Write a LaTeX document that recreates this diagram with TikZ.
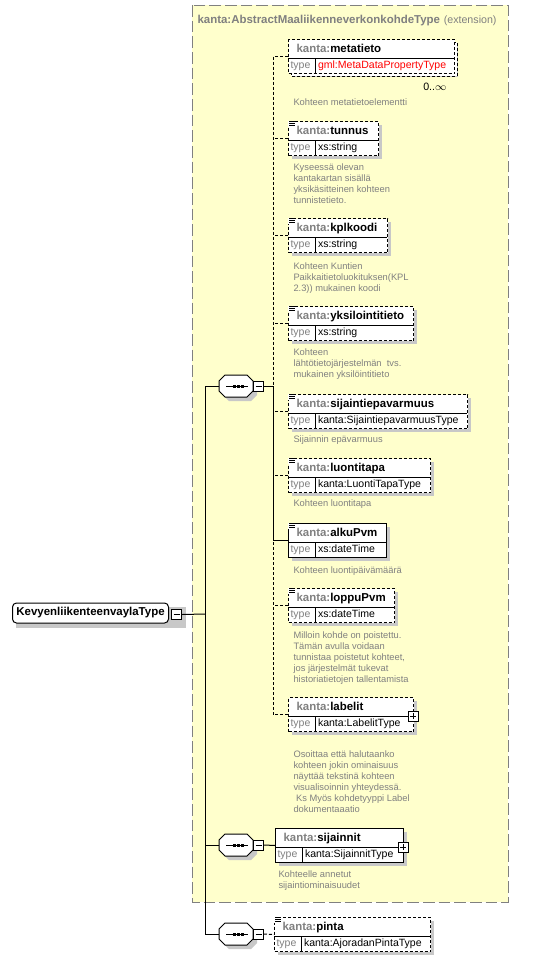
\documentclass[tikz,border=0pt]{standalone}
\usepackage[usenames,dvipsnames]{xcolor}
\usepackage{fontspec}
\setmainfont{Liberation Sans}
\usepackage{tikz}
\usetikzlibrary{shapes,arrows}

\begin{document}
\begin{tikzpicture}[x=0.75pt,y=-0.75pt,line width=0.75pt,inner sep=0pt,
  optbox/.style={draw,fill=white,dash pattern=on 2.25pt off 1.5pt},
  reqbox/.style={draw,fill=white},
  conn/.style={dash pattern=on 2.25pt off 1.5pt},
  namelabel/.style={anchor=base west,font=\fontsize{8.6}{10}\selectfont\bfseries},
  typelabel/.style={anchor=base west,font=\fontsize{7.9}{9.5}\selectfont},
  desclabel/.style={anchor=north west,align=left,text=textGray,font=\fontsize{7}{8.25}\selectfont},
  seqshape/.style={minimum width=25.5pt,minimum height=16.5pt},
  pmbox/.style={draw,fill=white,solid,minimum width=7.5pt,minimum height=7.5pt},
  minus/.style={pmbox,path picture={\draw ([xshift=1.5pt]path picture bounding box.west) -- ([xshift=-1.5pt]path picture bounding box.east);}},
  plus/.style={pmbox,path picture={\draw ([xshift=1.5pt]path picture bounding box.west) -- ([xshift=-1.5pt]path picture bounding box.east); \draw ([yshift=1.5pt]path picture bounding box.south) -- ([yshift=-1.5pt]path picture bounding box.north);}}]
\definecolor{yellowBg}{RGB}{255,255,204}
\definecolor{shadowGray}{RGB}{200,200,200}
\definecolor{textGray}{RGB}{128,128,128}
\definecolor{frameGray}{RGB}{128,128,128}
\fill[white,use as bounding box] (0,0) rectangle (552,960);
\draw[frameGray,fill=yellowBg,dash pattern=on 8.75pt off 3pt] (192,5) rectangle (508,902);
\node[anchor=base west,text=textGray] (title) at (197,23) {{\fontsize{8.6}{10}\selectfont\bfseries kanta:AbstractMaaliikenneverkonkohdeType} {\fontsize{8}{10}\selectfont(extension)}};
% root and sequences
\fill[shadowGray] (16,607) rectangle (186,628);
\node[draw,fill=white,rounded corners=3pt,anchor=west,minimum width=117pt,minimum height=15pt,font=\fontsize{8.6}{10}\selectfont\bfseries] (root) at (12,613) {KevyenliikenteenvaylaType};
\node[minus] (rootm) at (176.5,614.5) {};
\foreach \sq/\c in {seq1/386,seq2/845,seq3/934}{
  \fill[shadowGray] (223,\c-1) -- (229,\c-7) -- (251,\c-7) -- (257,\c-1) -- (257,\c+9) -- (251,\c+15) -- (229,\c+15) -- (223,\c+9) -- cycle;
  \node[seqshape] (\sq) at (236,\c) {};
  \draw[fill=white] (219,\c-5) -- (225,\c-11) -- (247,\c-11) -- (253,\c-5) -- (253,\c+5) -- (247,\c+11) -- (225,\c+11) -- (219,\c+5) -- cycle;
  \draw ([xshift=-7.5pt]\sq.center) -- ([xshift=9pt]\sq.center);
  \foreach \dx in {-4,0,4} \fill ([shift={(\dx+0.5,-1.5)}]\sq.center) rectangle ++(3,3);
  \node[minus] (\sq m) at (258.5,\c) {};
}
\coordinate (trunk) at (205,614);
\coordinate (bus) at (273,386);
\draw (rootm.east) -- (trunk);
\foreach \sq in {seq1,seq2,seq3} \draw (\sq.west) -| (trunk);
% element boxes
\foreach \nm/\x/\y/\w/\tp/\bx/\st in {
  metatieto/288/39/166/{\textcolor{red}{gml:MetaDataPropertyType}}/optbox/3,
  tunnus/288/121/90/xs:string/optbox/0,
  kplkoodi/288/218/99/xs:string/optbox/0,
  yksilointitieto/288/306/125/xs:string/optbox/0,
  sijaintiepavarmuus/288/394/179/kanta:SijaintiepavarmuusType/optbox/0,
  luontitapa/288/458/142/kanta:LuontiTapaType/optbox/0,
  alkuPvm/288/523/98/xs:dateTime/reqbox/0,
  loppuPvm/288/588/106/xs:dateTime/optbox/0,
  labelit/288/697/125/kanta:LabelitType/optbox/0,
  sijainnit/275/828/128/kanta:SijainnitType/reqbox/0,
  pinta/274/917/156/kanta:AjoradanPintaType/optbox/0}{
  \fill[shadowGray] (\x+4,\y+4) rectangle ++(\w,34);
  \ifnum\st>0 \draw[\bx] (\x+\st,\y+\st) rectangle ++(\w,34); \fi
  \node[\bx,anchor=north west,minimum width=\w*0.75pt,minimum height=25.5pt] (\nm) at (\x,\y) {};
  \draw (\x,\y+19) -- ++(\w,0);
  \draw (\x+27,\y+19) -- ++(0,15);
  \node[namelabel] at (\x+8,\y+13.5) {\textcolor{textGray}{kanta:}\nm};
  \node[typelabel,text=textGray] at (\x+2,\y+29) {type};
  \node[typelabel] at (\x+29.5,\y+29) {\tp};
}
\foreach \nm in {tunnus,kplkoodi,yksilointitieto,sijaintiepavarmuus,luontitapa,alkuPvm,loppuPvm,pinta}{
  \fill[white] ([shift={(-0.5,-0.5)}]\nm.north west) rectangle ++(7.5,6);
  \foreach \k in {0.5,2.5,4.5} \draw[line width=0.6pt] ([shift={(1,\k)}]\nm.north west) -- ++(6,0);
}
\node[plus] (labelitx) at (413,716) {};
\node[plus] (sijainnitx) at (403,847) {};
\node[anchor=base east,font=\fontsize{8}{10}\selectfont] (metatietoocc) at (447,90) {0..\(\infty\)};
% connectors
\draw (seq1m.east) -- (bus) |- (alkuPvm.west);
\draw[conn] (metatieto.west) -| (bus);
\foreach \nm in {tunnus,kplkoodi,yksilointitieto,sijaintiepavarmuus,luontitapa,loppuPvm} \draw[conn] (\nm.west) -- (\nm.west -| bus);
\draw[conn] (labelit.west) -| (alkuPvm.west -| bus);
\draw (seq2m.east) -- (sijainnit.west);
\draw[conn] (seq3m.east) -- (pinta.west);
% descriptions
\foreach \nm/\dx/\db/\txt in {
  metatieto/293/105/{Kohteen metatietoelementti},
  tunnus/293/170/{Kyseessä olevan\\kantakartan sisällä\\yksikäsitteinen kohteen\\tunnistetieto.},
  kplkoodi/293/269/{Kohteen Kuntien\\Paikkaitietoluokituksen(KPL\\2.3)) mukainen koodi},
  yksilointitieto/293/355/{Kohteen\\lähtötietojärjestelmän~ tvs.\\mukainen yksilöintitieto},
  sijaintiepavarmuus/293/442/{Sijainnin epävarmuus},
  luontitapa/293/506/{Kohteen luontitapa},
  alkuPvm/293/573/{Kohteen luontipäivämäärä},
  loppuPvm/293/638/{Milloin kohde on poistettu.\\Tämän avulla voidaan\\tunnistaa poistetut kohteet,\\jos järjestelmät tukevat\\historiatietojen tallentamista},
  labelit/293/757/{Osoittaa että halutaanko\\kohteen jokin ominaisuus\\näyttää tekstinä kohteen\\visualisoinnin yhteydessä.\\\ Ks Myös kohdetyyppi Label\\dokumentaaatio},
  sijainnit/278/877/{Kohteelle annetut\\sijaintiominaisuudet}}
  \node[desclabel] (\nm desc) at (\dx,\db-7.7) {\strut\txt};
\end{tikzpicture}
\end{document}
